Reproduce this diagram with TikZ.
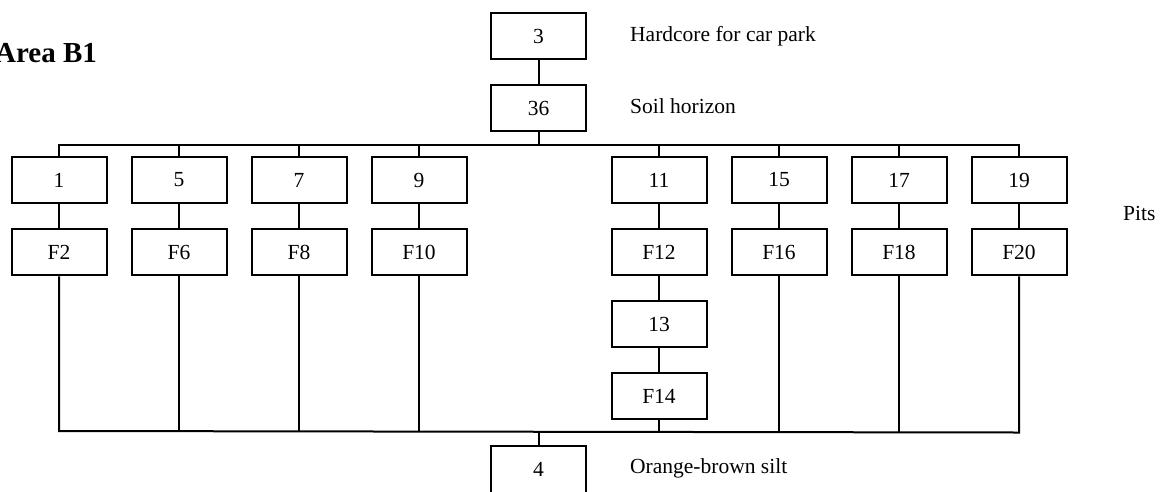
\documentclass[tikz,border=0pt]{standalone}
\usepackage{fontspec}
\setmainfont{Liberation Serif}
\begin{document}
\begin{tikzpicture}[x=1pt,y=-1pt,
  box/.style={draw, line width=2pt, minimum width=95pt, minimum height=46.5pt, inner sep=0pt, font=\fontsize{21.5}{24}\selectfont},
  conn/.style={line width=2pt, line join=miter},
  lbl/.style={anchor=base west, inner sep=0pt, font=\fontsize{21.5}{24}\selectfont}]
\useasboundingbox (0,0) rectangle (1165,491);
% title
\node[anchor=base west, inner sep=0pt, font=\fontsize{29}{32}\bfseries\selectfont] (title) at (-5,62) {Area B1};
% top nodes
\node[box] (n3) at (538.5,36) {3};
\node[box] (n36) at (538.5,108) {36};
\node[lbl] (t3) at (630,41) {Hardcore for car park};
\node[lbl] (t36) at (630,113) {Soil horizon};
% row 1 and row 2
\foreach \x/\a/\b in {59/1/F2, 179/5/F6, 299/7/F8, 419/9/F10, 659/11/F12, 779/15/F16, 899/17/F18, 1019/19/F20} {
  \node[box] (r\a) at (\x,180) {\a};
  \node[box] (f\a) at (\x,252) {\b};
  \draw[conn] (r\a) -- (f\a);
}
\node[lbl] (pits) at (1123,220) {Pits};
\node[box] (n13) at (659,324) {13};
\node[box] (n14) at (659,396) {F14};
\node[box] (n4) at (538.5,469.5) {4};
\node[lbl] (t4) at (630,473) {Orange-brown silt};
\draw[conn] (n3) -- (n36);
\draw[conn] (f11) -- (n13);
\draw[conn] (n13) -- (n14);
% top bar
\coordinate (tl) at (59,144.5);
\coordinate (tr) at (1019,144.5);
\draw[conn] (r1.north) -- (tl) -- (tr) -- (r19.north);
\draw[conn] (n36.south) -- (n36.south |- tl);
\foreach \a in {5,7,9,11,15,17} { \draw[conn] (r\a.north) -- (r\a.north |- tl); }
% bottom bar
\coordinate (bl) at (59,431);
\coordinate (br) at (1019,432.5);
\draw[conn] (f1.south) -- (bl) -- (br) -- (f19.south);
\foreach \a/\y in {5/431.2,7/431.4,9/431.6,15/432,17/432.2} { \draw[conn] (f\a.south) -- (f\a.south |- 0,\y); }
\draw[conn] (n14.south) -- (n14.south |- 0,431.8);
\draw[conn] (n4.north) -- (n4.north |- 0,431.5);
\end{tikzpicture}
\end{document}
